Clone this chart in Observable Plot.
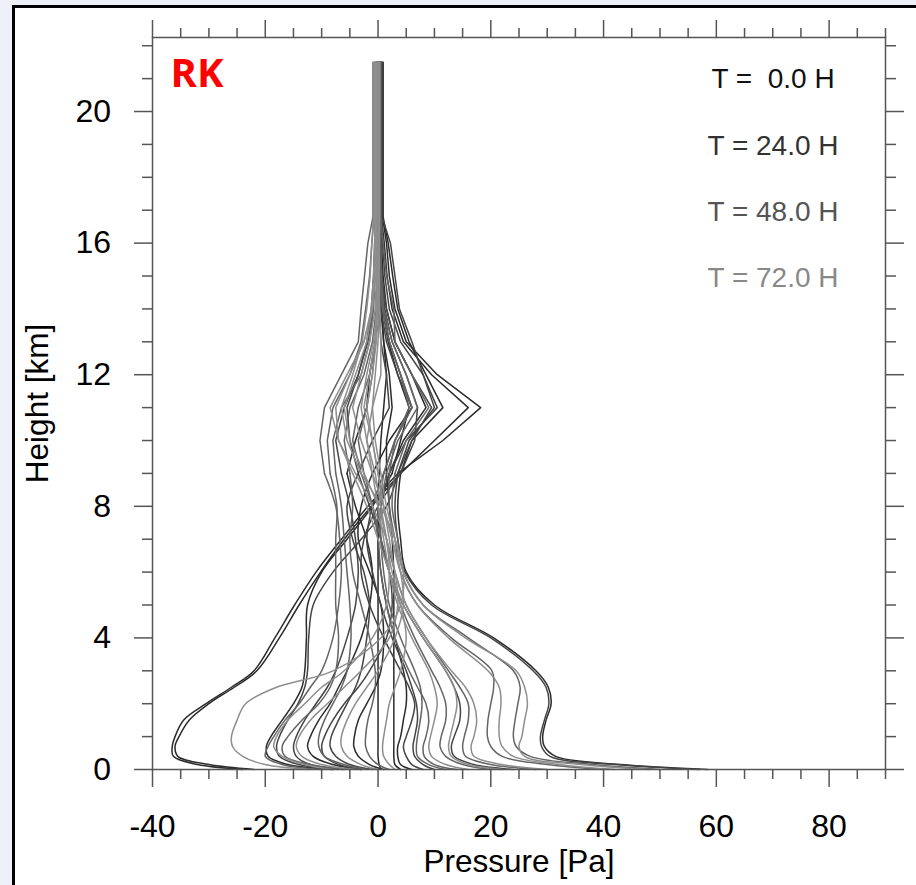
<!DOCTYPE html>
<html><head><meta charset="utf-8">
<script src="https://cdn.jsdelivr.net/npm/d3@7"></script>
<script src="https://cdn.jsdelivr.net/npm/@observablehq/plot@0.6"></script>
<style>
html,body{margin:0;padding:0;background:#eef0f9;width:916px;height:885px;overflow:hidden;}
#box{position:absolute;left:12px;top:5px;width:940px;height:920px;background:#fff;border:3px solid #000;}
#chart{position:absolute;left:0;top:0;}
</style></head><body><div id="box"></div><div id="chart"></div>
<script>
// Heights (km) at which each profile is sampled
const heights = [0, 0.15, 0.4, 0.7, 1, 1.5, 2, 2.5, 3, 4, 5, 6, 7, 8, 9, 10, 11, 12, 13, 14, 15, 16, 16.8, 21.5];

const timeLabels = ["T =  0.0 H", "T = 24.0 H", "T = 48.0 H", "T = 72.0 H"];
const labelColors = ["#111111", "#333333", "#555555", "#888888"];
const lineColors = ["#2b2b2b", "#444444", "#646464", "#8e8e8e"];

const xMajorTicks = [-40, -20, 0, 20, 40, 60, 80];
const xMinorTicks = [-35, -30, -25, -15, -10, -5, 5, 10, 15, 25, 30, 35, 45, 50, 55, 65, 70, 75, 85, 90];
const yMajorTicks = [0, 4, 8, 12, 16, 20];
const yMinorTicks = [1, 2, 3, 5, 6, 7, 9, 10, 11, 13, 14, 15, 17, 18, 19, 21, 22];

// Pressure profiles [Pa], one array per member, values at `heights`
const t0Profiles = [
  [-24, -32, -36.3, -36.5, -36, -34.5, -30.5, -26, -22, -18.3, -14.8, -11, -6.5, -1.8, 3.5, 11.5, 18.2, 10.5, 5, 3, 2, 1.5, 0.8, 0.8],
  [-22, -30, -35.5, -36, -35.3, -33.5, -30, -25.5, -21.5, -17.5, -14, -10.2, -6, -1.2, 4, 10, 16, 9.5, 4.5, 2.5, 1.6, 1.1, 0.6, 0.6],
  [-8, -16, -19.5, -19.8, -19, -17, -15, -13.5, -13, -12.7, -12.5, -10, -5.5, -1, 2.5, 4, 5.5, 3.5, 1.8, 0.8, 0.4, 0.2, 0.1, 0.1],
  [-3, -8, -11.5, -12.5, -12, -10.5, -8.5, -7, -5.5, -3, -1.5, -1, -2, -4, -5.5, -4, -2, -1.5, -0.5, 0.3, 0, -0.3, -0.2, -0.2],
  [1, -1.5, -3.5, -4.3, -4.2, -3.5, -2, -0.5, 0.5, 1, 0.5, -1.5, -3.5, -3, -1, 2, 6, 4, 2, 1, 0.6, 0.4, 0.3, 0.3],
  [0.5, 0.2, 0, 0, 0, 0, 0, 0, 0, 0, 0, 0, 0, 0, 0.2, 0.5, 1, 1.5, 1, 0.5, 0.2, 0, 0, 0],
  [4, 3, 2.8, 2.8, 2.8, 2.8, 2.8, 2.8, 2.8, 2.8, 2.8, 2.8, 2.5, 2, 1.5, 1.5, 2.5, 2, 1, 0.7, 0.5, 0.4, 0.4, 0.4],
  [58.5, 43, 31.5, 29.5, 29.2, 29.8, 30.7, 30.2, 28, 20.5, 10, 5, 4, 3.5, 4, 6, 11.5, 8.5, 5.5, 3.5, 2.6, 1.8, 0.9, 0.9],
  [6, 4, 3.5, 3.5, 4, 4.5, 5, 5, 4.5, 3, 1.5, 0.5, 0, 0.5, 2, 4.5, 8.5, 6, 3, 1.5, 0.9, 0.6, 0.5, 0.5]
];
const t24Profiles = [
  [-6, -14, -17.5, -18, -17.5, -16, -14.2, -13, -12.5, -12.3, -11.5, -8, -3, 1.5, 3.5, 6, 9.5, 6, 3, 1.5, 0.6, 0.3, 0.2, 0.2],
  [-1, -5, -7.5, -8.5, -8.3, -7, -5.5, -4, -3, -2, -1.5, -2.5, -4.5, -5.5, -3.5, -1, 2, 1.5, 0.5, 0.2, 0, -0.1, -0.1, -0.1],
  [8, 6, 5, 4.5, 5, 6, 6.5, 5.5, 4, 1, -1.5, -3, -2.5, 0, 4, 6.5, 7, 5, 2.5, 1.2, 0.7, 0.4, 0.3, 0.3],
  [10, 8, 6.5, 6.2, 6.5, 7, 6.8, 6, 5, 2.5, 0.5, -1, -2, -1, 1, 3, 6, 3.5, 1.5, 0.5, 0.2, 0.1, 0.1, 0.1],
  [24, 17, 13.5, 13, 13.5, 14.5, 14.5, 13.5, 12, 8, 4.5, 2, 0.5, 0.5, 2, 5, 10.5, 8, 6, 3.8, 3, 2.2, 0.7, 0.7],
  [57, 42, 30.5, 29, 28.8, 29.5, 30.3, 29.8, 27.5, 20, 9.5, 4.8, 3.5, 3, 3.5, 5.5, 10, 8, 4, 2, 1.2, 0.8, 0.6, 0.6],
  [-7, -12, -14.5, -15, -14.5, -13, -11, -9, -7.5, -5.5, -4, -3.5, -4, -5, -6.5, -7.5, -6, -3.5, -2, -1.2, -0.8, -0.6, -0.4, -0.4],
  [-3, -7, -9.5, -10, -9.5, -8, -6, -3.5, -1.5, 1.5, 2.5, 2, 0.5, -1.5, -3.5, -5, -5.5, -3.5, -1.8, -0.9, -0.5, -0.4, -0.3, -0.3]
];
const t48Profiles = [
  [-10, -17, -20, -19.5, -18.5, -16.5, -14, -12, -10, -8, -7, -6.5, -6.8, -7.5, -9.5, -10.3, -9.5, -6.5, -3.5, -3, -2.4, -1.8, -0.9, -0.9],
  [-5, -12, -16.5, -17, -16, -13.5, -10.5, -8.5, -7.5, -7, -7.5, -7.5, -7.5, -7.3, -8.5, -9, -8, -5, -3, -2.2, -1.5, -1.1, -0.7, -0.7],
  [-2, -6, -9.5, -10.5, -10.5, -9.5, -8, -6.5, -5.5, -4.8, -5, -5.5, -6, -6.5, -7.5, -8, -6.5, -3, -1.5, -0.8, -0.6, -0.5, -0.5, -0.5],
  [2, 0, -1.5, -2.2, -2.2, -1.8, -1, -0.5, -0.5, -1.5, -3, -4.5, -5, -4.5, -5, -6, -5, -2.5, -1, -0.3, -0.2, -0.2, -0.2, -0.2],
  [14, 10, 8.2, 8, 8.5, 9, 8.5, 7, 5.5, 3, 1.5, 0.5, 0, -1, -2.5, -3.5, -2, -1, -0.5, 0, 0, 0, 0, 0],
  [20, 15, 12, 11, 11.2, 12, 12, 11, 9.5, 6.5, 4, 2, 0.5, -1, -3, -4.5, -3.5, -1.5, -0.5, -0.2, -0.1, -0.1, -0.1, -0.1],
  [28, 20, 15.5, 15, 15.3, 16, 16, 14.5, 12.5, 8.5, 5, 3, 1.5, 0.5, 1, 3, 6, 4, 2, 0.8, 0.4, 0.3, 0.2, 0.2],
  [40, 30, 22, 20, 19.4, 19.5, 20, 20.5, 20.2, 13, 7, 4, 3, 2, 2, 3, 5.5, 4, 2, 0.8, 0.3, 0.2, 0.1, 0.1],
  [50, 38, 27, 24.5, 24, 24.3, 24.8, 25.2, 24, 16, 8, 4.5, 3.5, 2.5, 3, 5, 9, 6, 3, 2.8, 1.5, 0.9, 0.5, 0.5],
  [12, 9, 7, 6.8, 7, 7.5, 7.8, 7.5, 6.5, 4, 2, 1, 0.5, 0.5, 1.5, 3.5, 7, 5, 2.5, 1, 0.6, 0.5, 0.4, 0.4]
];
const t72Profiles = [
  [-12, -20, -24, -25.8, -26, -25, -23.5, -18, -8, 0.5, 4, 4.5, 3, 0.5, -3, -5.5, -6.5, -4.5, -2.8, -2, -1.4, -1.1, -0.8, -0.8],
  [-4, -10, -13.5, -14.5, -14, -12, -9, -6, -3, 2, 3.5, 3, 1.5, -1, -4, -7, -7.5, -5, -2.5, -1.2, -0.8, -0.6, -0.6, -0.6],
  [0, -3, -5.5, -6.5, -6.5, -5.5, -4, -2, 0, 3, 4.5, 4, 2.5, 1, -1, -3, -4.5, -3, -1.5, -0.5, -0.3, -0.3, -0.3, -0.3],
  [3, 2, 1, 0.8, 1, 1.5, 2, 3, 4, 5, 4, 2, 0, -2, -4.5, -7, -8.5, -5.5, -2.5, -1, -0.5, -0.4, -0.4, -0.4],
  [16, 12, 9.5, 9, 9.3, 10, 10.5, 10, 9, 6, 3.5, 2, 1, 0, -1, -2, -1, 0.5, 0.5, 0.3, 0.2, 0.1, 0.1, 0.1],
  [30, 22, 17, 16.5, 17, 17.5, 17, 15.5, 13, 8.5, 5, 3, 2, 1, 0, -1, -2, -1, -0.3, 0, 0, 0, 0, 0],
  [42, 32, 24, 22, 21.5, 21.5, 21.8, 21.5, 19.5, 12.5, 7, 4, 2.5, 1, 0, -1, -2.5, -1.5, -0.5, -0.2, -0.2, -0.2, -0.2, -0.2],
  [48, 36, 26, 25, 25.5, 26, 26.5, 26, 24.5, 15.5, 8, 4.5, 3, 1.5, 0.5, -0.5, -1, -0.5, 0, 0.2, 0.2, 0.2, 0.2, 0.2],
  [-8, -13, -17, -18.5, -18, -16, -13, -10, -6, -1, 1.5, 2, 1.5, 0, -2.5, -5, -6, -4, -2, -1, -0.6, -0.5, -0.5, -0.5],
  [22, 16, 13, 12.5, 12.8, 13.5, 14, 13.5, 12, 8, 4.5, 2.5, 1.5, 0.5, -0.5, -2, -3, -2, -0.8, -0.2, 0.1, 0.2, 0.3, 0.3]
];
const profileGroups = [t0Profiles, t24Profiles, t48Profiles, t72Profiles];

// Flatten into a tidy table
const rows = [];
profileGroups.forEach((group, g) => {
  group.forEach((vals, m) => {
    vals.forEach((p, k) => rows.push({id: g + "-" + m, time: g, p, h: heights[k], color: lineColors[g]}));
  });
});
const lower = rows.filter(d => d.h <= 9);
const upper = rows.filter(d => d.h >= 9);

const axisStyle = {stroke: "#555", strokeWidth: 1.5, label: null};
const blank = () => "";

const chart = Plot.plot({
  width: 916, height: 885,
  marginLeft: 152, marginRight: 31, marginTop: 37, marginBottom: 116,
  style: {background: "transparent", fontFamily: "'Liberation Sans', Arial, Helvetica, sans-serif", fontSize: "32px", color: "#000", overflow: "visible"},
  x: {domain: [-40, 90]},
  y: {domain: [0, 22.25]},
  color: {type: "identity"},
  marks: [
    Plot.line(lower, {x: "p", y: "h", z: "id", stroke: "color", strokeWidth: 1.5, curve: "catmull-rom"}),
    Plot.line(upper, {x: "p", y: "h", z: "id", stroke: "color", strokeWidth: 1.5, curve: "linear"}),
    Plot.frame({stroke: "#555", strokeWidth: 1.5}),
    Plot.axisX({anchor: "bottom", ticks: xMajorTicks, tickSize: 18, tickPadding: 26.5, tickFormat: d => String(d), fontSize: 32, ...axisStyle}),
    Plot.axisX({anchor: "bottom", ticks: xMinorTicks, tickSize: 10, tickFormat: blank, ...axisStyle}),
    Plot.axisX({anchor: "top", ticks: xMajorTicks, tickSize: 18, tickFormat: blank, ...axisStyle}),
    Plot.axisX({anchor: "top", ticks: xMinorTicks, tickSize: 10, tickFormat: blank, ...axisStyle}),
    Plot.axisY({anchor: "left", ticks: yMajorTicks, tickSize: 18, tickPadding: 23.5, tickFormat: d => String(d), fontSize: 32, ...axisStyle}),
    Plot.axisY({anchor: "left", ticks: yMinorTicks, tickSize: 10, tickFormat: blank, ...axisStyle}),
    Plot.axisY({anchor: "right", ticks: yMajorTicks, tickSize: 18, tickFormat: blank, ...axisStyle}),
    Plot.axisY({anchor: "right", ticks: yMinorTicks, tickSize: 10, tickFormat: blank, ...axisStyle}),
    Plot.text(["Pressure [Pa]"], {frameAnchor: "bottom", text: d => d, textAnchor: "middle", lineAnchor: "middle", dy: 92.7, fontSize: 31.5, fill: "#000"}),
    Plot.text(["Height [km]"], {frameAnchor: "left", text: d => d, textAnchor: "middle", lineAnchor: "middle", rotate: -90, dx: -114.5, fontSize: 31.5, fill: "#000"}),
    Plot.text(["RK"], {frameAnchor: "top-left", text: d => d, textAnchor: "start", lineAnchor: "middle", dx: 18, dy: 37, fontSize: 40, fontWeight: "bold", fill: "#ff0000", fontFamily: "'Open Sans', 'Noto Sans', sans-serif"}),
    ...timeLabels.map((t, i) => Plot.text([t], {frameAnchor: "top-right", text: d => d, textAnchor: "middle", lineAnchor: "middle", dx: -112.5, dy: 41.9 + i * 66.3, fontSize: 28, fill: labelColors[i]}))
  ]
});
d3.select(chart).selectAll("text").style("white-space", "pre");
document.getElementById("chart").appendChild(chart);
</script>
</body></html>
